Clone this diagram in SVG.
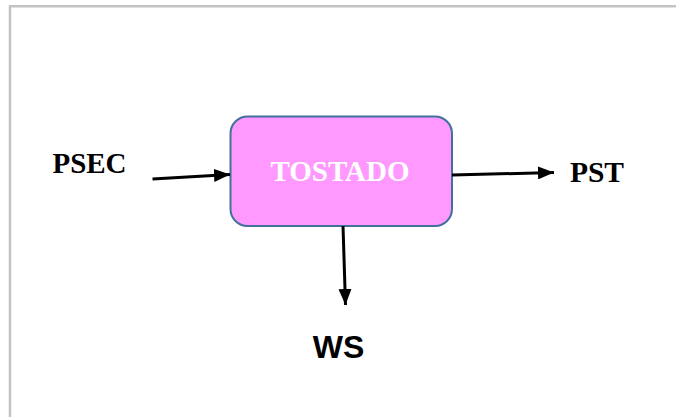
<svg xmlns="http://www.w3.org/2000/svg" width="676" height="417" viewBox="0 0 676 417">
  <defs>
    <marker id="arrow" viewBox="0 0 16 13" refX="16" refY="6.5" markerWidth="16" markerHeight="13" markerUnits="userSpaceOnUse" orient="auto">
      <path d="M0,0 L16,6.5 L0,13 Z" fill="#000"/>
    </marker>
    <style>
      .frame { fill: none; stroke: #c3c3c3; stroke-width: 2.5; }
      .box { fill: #ff99ff; stroke: #41719c; stroke-width: 2; }
      .flow { stroke: #000; stroke-width: 3; fill: none; marker-end: url(#arrow); }
      .serif { font-family: "Liberation Serif", "Times New Roman", serif; font-weight: bold; }
      .sans { font-family: "Liberation Sans", Arial, sans-serif; font-weight: bold; }
    </style>
  </defs>

  <rect width="676" height="417" fill="#fff"/>
  <path class="frame" d="M10,417 L10,6.2 L676,6.2"/>

  <g id="tostado">
    <rect class="box" x="230.5" y="116.5" width="221.5" height="109.5" rx="17" ry="17"/>
    <text class="serif" x="340" y="181" font-size="29" fill="#fff" text-anchor="middle">TOSTADO</text>
  </g>

  <g id="psec">
    <text class="serif" x="89.5" y="172.5" font-size="29" fill="#000" text-anchor="middle">PSEC</text>
  </g>

  <g id="pst">
    <text class="serif" x="597" y="181.5" font-size="29.5" fill="#000" text-anchor="middle">PST</text>
  </g>

  <g id="ws">
    <text class="sans" x="338.5" y="358" font-size="32" fill="#000" text-anchor="middle">WS</text>
  </g>

  <g id="connectors">
    <line class="flow" x1="152.5" y1="179" x2="230" y2="174.5"/>
    <line class="flow" x1="452" y1="175" x2="554" y2="172.5"/>
    <line class="flow" x1="343" y1="226" x2="345.5" y2="305"/>
  </g>
</svg>
